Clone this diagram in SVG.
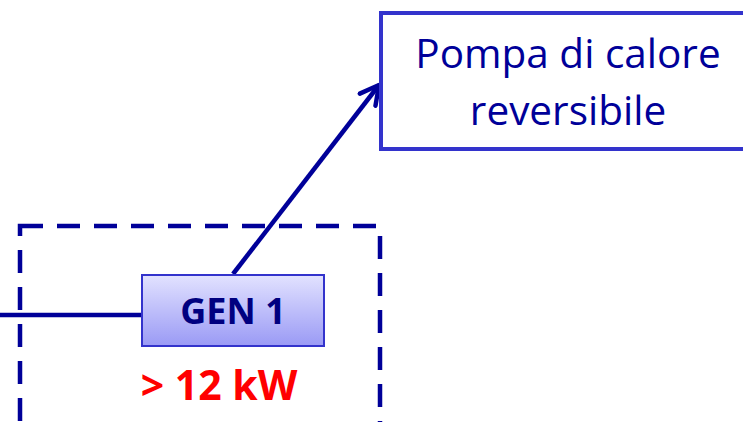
<svg xmlns="http://www.w3.org/2000/svg" width="743" height="422" viewBox="0 0 743 422">
  <style>
    .wire { stroke: #000099; stroke-width: 4.5; fill: none; stroke-linecap: butt; }
    .zone { stroke: #000099; stroke-width: 4.5; fill: none; stroke-dasharray: 23 14; }
    .load { stroke: #3333CC; stroke-width: 4; fill: #FFFFFF; }
    .gen { stroke: #3333CC; stroke-width: 2; fill: url(#genFill); }
    .t-load { font-family: "Open Sans", "Liberation Sans", sans-serif; font-size: 40.5px; fill: #000099; text-anchor: middle; }
    .t-gen { font-family: "Open Sans", "Liberation Sans", sans-serif; font-weight: bold; font-size: 36px; fill: #000080; text-anchor: middle; }
    .t-power { font-family: "Open Sans", "Liberation Sans", sans-serif; font-weight: bold; font-size: 41px; fill: #FF0000; text-anchor: middle; }
  </style>
  <defs>
    <linearGradient id="genFill" x1="0" y1="0" x2="0" y2="1">
      <stop offset="0" stop-color="#E2E2FF"/>
      <stop offset="1" stop-color="#9A9AF5"/>
    </linearGradient>
    <marker id="openArrow" viewBox="0 0 10 10" refX="8.5" refY="5" markerWidth="5.5" markerHeight="5.5" orient="auto" markerUnits="strokeWidth">
      <path d="M1,1 L8.5,5 L1,9" fill="none" stroke="#000099" stroke-width="1.8" stroke-linecap="round" stroke-linejoin="round"/>
    </marker>
  </defs>

  <!-- generation zone boundary -->
  <g id="zone">
    <rect class="zone" x="20" y="226" width="360" height="200"/>
  </g>

  <!-- connectors -->
  <g id="connectors">
    <line class="wire" x1="0" y1="315" x2="142" y2="315"/>
    <line class="wire" x1="233" y1="274" x2="379" y2="85" marker-end="url(#openArrow)"/>
  </g>

  <!-- heat pump load -->
  <g id="pompa">
    <rect class="load" x="381" y="13" width="380" height="136"/>
    <text class="t-load" x="568" y="68">Pompa di calore</text>
    <text class="t-load" x="568" y="125">reversibile</text>
  </g>

  <!-- generator -->
  <g id="gen1">
    <rect class="gen" x="142" y="275" width="182" height="71"/>
    <text class="t-gen" x="233" y="324">GEN 1</text>
  </g>

  <!-- power rating -->
  <g id="rating">
    <text class="t-power" x="219" y="400">&gt; 12 kW</text>
  </g>
</svg>
